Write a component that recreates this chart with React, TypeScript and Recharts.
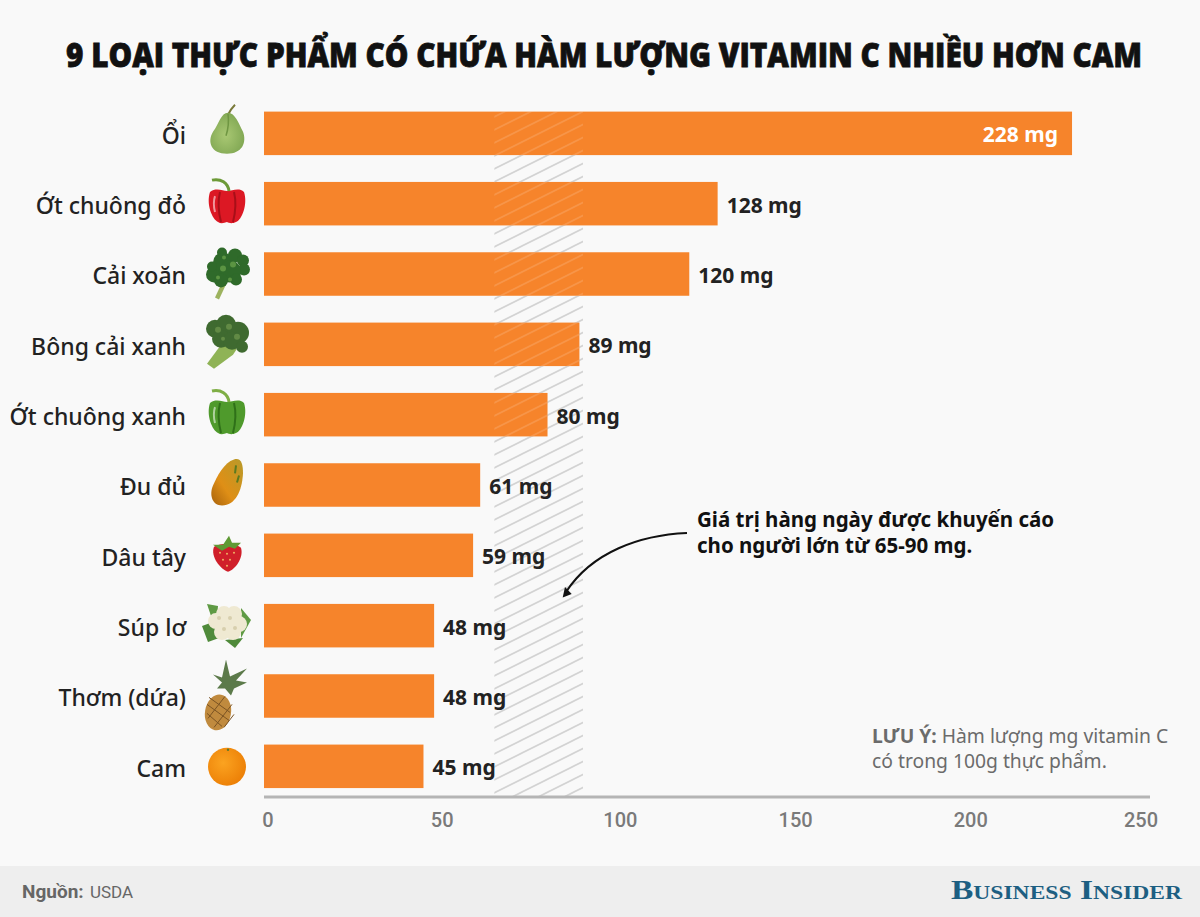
import React from 'react';
import { BarChart, Bar, XAxis, YAxis, ReferenceArea, LabelList } from 'recharts';

const foods = ['Ổi', 'Ớt chuông đỏ', 'Cải xoăn', 'Bông cải xanh', 'Ớt chuông xanh', 'Đu đủ', 'Dâu tây', 'Súp lơ', 'Thơm (dứa)', 'Cam'];
const vitaminC = [228, 128, 120, 89, 80, 61, 59, 48, 48, 45];
const axisTicks = [0, 50, 100, 150, 200, 250];
const DAILY_LOW = 65;
const DAILY_HIGH = 90;

const data = foods.map((name, i) => ({ name, value: vitaminC[i] }));

const TEXT = '#222222';
const ORANGE = '#f6842b';
const SANS = '"Noto Sans", sans-serif';

// the band's row scale runs past the hatch on both ends, so trim it here
const BAND_TRIM_TOP = 13.4;
const BAND_TRIM_BOTTOM = 5;

// the reference nudges its axis numbers a bit off the exact tick position
const tickNudge: Record<number, number> = { 0: 4, 50: 1, 100: 2, 150: 0, 200: -2, 250: -9 };

const blobs = (list: number[][], fill: string) =>
  list.map(([cx, cy, r], i) => <circle key={fill + i} cx={cx} cy={cy} r={r} fill={fill} />);

function Pepper({ body, dark, stem }: { body: string; dark: string; stem: string }) {
  return (
    <g>
      <path d="M-17,-12 C-11,-17 -4,-13 0,-13 C5,-13 12,-17 17,-12 C21,0 15,16 9,18 C5,20 2,19 0,18 C-3,19 -6,20 -9,18 C-15,15 -21,0 -17,-12Z" fill={body} />
      <path d="M-7,-12 C-10,0 -8,10 -6,18 M7,-12 C10,0 8,10 6,18" stroke={dark} strokeWidth={2} fill="none" />
      <path d="M-12,-8 C-14,-2 -13,4 -12,8" stroke="#ffffff" strokeOpacity={0.55} strokeWidth={2} fill="none" />
      <path d="M2,-13 C1,-21 -6,-26 -15,-24" stroke={stem} strokeWidth={3} fill="none" />
    </g>
  );
}

function FoodIcon({ name }: { name: string }) {
  switch (name) {
    case 'Ổi':
      return (
        <g>
          <path d="M1,-19 C3,-23 5,-26 8,-29" stroke="#7a7a3a" strokeWidth={2} fill="none" />
          <path d="M1,-21 C-6,-21 -8,-10 -14,-2 C-20,8 -16,20 0,20 C15,20 20,9 16,-2 C12,-10 8,-21 1,-21Z" fill="url(#guavaFill)" />
          <path d="M1,-20 C2,-12 1,-4 -1,2" stroke="#6f9642" strokeWidth={1.5} fill="none" />
        </g>
      );
    case 'Ớt chuông đỏ':
      return <Pepper body="#dc1824" dark="#a80f18" stem="#6d9a38" />;
    case 'Ớt chuông xanh':
      return <Pepper body="#4f9a2c" dark="#2f7019" stem="#7fae45" />;
    case 'Cải xoăn':
      return (
        <g>
          <path d="M-5,8 L-12,23 L-8,25 L-1,10Z" fill="#9db35f" />
          {blobs([[-13, 0, 8], [-4, -12, 10], [8, -19, 7], [16, -14, 6], [17, -5, 6], [3, -3, 11], [-6, 6, 7], [-15, -8, 5], [9, 5, 6], [-5, -22, 5]], '#2f6a2a')}
          {blobs([[-4, -6, 3], [6, -10, 3], [-9, 3, 2], [3, 5, 2], [-3, -17, 2]], '#5b9442')}
        </g>
      );
    case 'Bông cải xanh':
      return (
        <g>
          <path d="M-6,0 L-20,19 L-13,24 L6,10 L10,4Z" fill="#8fb356" />
          {blobs([[-12, -16, 9], [-1, -20, 10], [11, -12, 11], [-6, -6, 9], [5, -4, 9], [15, 2, 6]], '#3f6a30')}
          {blobs([[-9, -15, 3], [2, -18, 3], [10, -8, 3], [-4, -6, 2]], '#628a45')}
        </g>
      );
    case 'Đu đủ':
      return (
        <g>
          <path d="M7,-26 C14,-28 16,-22 16,-12 C15,6 8,20 -5,20 C-15,20 -18,9 -14,0 C-10,-9 -3,-23 7,-26Z" fill="url(#papayaFill)" />
          <path d="M9,-20 L8,-12 M12,-10 L10,-3" stroke="#5b7a1f" strokeWidth={2} />
        </g>
      );
    case 'Dâu tây':
      return (
        <g>
          <path d="M-13,-9 C-6,-13 8,-13 14,-8 C17,2 8,14 1,16 C-6,14 -17,1 -13,-9Z" fill="#d01f2a" />
          <path d="M-14,-11 L-4,-11 L2,-20 L5,-13 L14,-13 L8,-7 L2,-9 L-5,-5Z" fill="#5f9a34" />
          {blobs([[-7, -3, 0.9], [0, -2, 0.9], [7, -3, 0.9], [-4, 4, 0.9], [3, 4, 0.9], [0, 10, 0.9]], '#f2c36b')}
        </g>
      );
    case 'Súp lơ':
      return (
        <g>
          <path d="M-25,0 L-14,-4 L-8,12 L-19,16Z" fill="#4f8a3a" />
          <path d="M14,-18 L24,-6 L14,12Z" fill="#5f9a44" />
          <path d="M-2,14 L8,22 L16,12Z" fill="#4f8a3a" />
          <path d="M-20,-22 L-9,-20 L-10,-8 L-16,-10Z" fill="#5f9a44" />
          {blobs([[-11, -5, 8], [-3, -12, 8], [7, -12, 8], [12, -2, 8], [6, 6, 8], [-5, 6, 8], [1, -2, 10]], '#efe9d2')}
          {blobs([[-8, -8, 2], [3, -8, 2], [8, 2, 2], [-3, 3, 2]], '#d7cfae')}
        </g>
      );
    case 'Thơm (dứa)':
      return (
        <g>
          <path d="M-2,-8 L-10,-8 L-5,-14 L-14,-22 L-5,-19 L-1,-37 L3,-20 L20,-28 L9,-16 L20,-14 L7,-8 L4,-1Z" fill="#5c7a4a" />
          <ellipse cx={-9} cy={16} rx={13} ry={18} transform="rotate(10 -9 16)" fill="#c08a3e" />
          <path d="M-20,8 L2,24 M-18,1 L3,16 M-20,17 L-5,30 M-2,0 L-19,22 M5,8 L-13,31 M7,18 L-3,31" stroke="#7c5423" strokeWidth={1} />
        </g>
      );
    default:
      return (
        <g>
          <circle cx={0} cy={0} r={19} fill="url(#orangeFill)" />
          <circle cx={1} cy={-17} r={1.2} fill="#5f7a2a" />
        </g>
      );
  }
}

function FoodTick({ x, y, payload }: any) {
  return (
    <g>
      <text x={x} y={y + 10} textAnchor="end" fontFamily={SANS} fontWeight={500} fontSize={23} fill={TEXT}>
        {payload.value}
      </text>
      <g transform={`translate(${x + 41},${y})`}>
        <FoodIcon name={payload.value} />
      </g>
    </g>
  );
}

function ValueTick({ x, y, payload }: any) {
  return (
    <text x={x + tickNudge[payload.value]} y={y + 22} textAnchor="middle" fontFamily="Roboto, sans-serif" fontWeight={500} fontSize={20} fill="#7a7a7a">
      {payload.value}
    </text>
  );
}

function HatchBand({ x, y, width, height }: any) {
  return (
    <rect
      x={x}
      y={y + BAND_TRIM_TOP}
      width={width}
      height={height - BAND_TRIM_TOP - BAND_TRIM_BOTTOM}
      fill="url(#hatchBand)"
    />
  );
}

// bar plus the faint hatch that shows through it inside the recommended range
function HatchedBar({ x, y, width, height, value }: any) {
  const perUnit = width / value;
  return (
    <g>
      <rect x={x} y={y} width={width} height={height} fill={ORANGE} />
      {value > DAILY_LOW && (
        <rect
          x={x + DAILY_LOW * perUnit}
          y={y}
          width={(Math.min(value, DAILY_HIGH) - DAILY_LOW) * perUnit}
          height={height}
          fill="url(#hatchOnBar)"
        />
      )}
    </g>
  );
}

function ValueLabel({ x, y, width, height, value }: any) {
  const inside = value > 200;
  return (
    <text
      x={inside ? x + width - 14 : x + width + 9}
      y={y + height / 2 + 9}
      textAnchor={inside ? 'end' : 'start'}
      fontFamily={SANS}
      fontWeight={700}
      fontSize={21}
      fill={inside ? '#ffffff' : TEXT}
    >
      {`${value} mg`}
    </text>
  );
}

export default function App() {
  return (
    <div style={{ position: 'fixed', left: 0, top: 0, width: 1200, height: 917, background: '#f9f9f9', overflow: 'hidden' }}>
      <svg width={1200} height={917} style={{ position: 'absolute', left: 0, top: 0 }}>
        <defs>
          <pattern id="hatchBand" patternUnits="userSpaceOnUse" width={26} height={13}>
            <path d="M-2,14 L28,-1 M-2,1 L2,-1 M24,14 L28,12" stroke="#d3d3d3" strokeWidth={1.7} />
          </pattern>
          <pattern id="hatchOnBar" patternUnits="userSpaceOnUse" width={26} height={13}>
            <path d="M-2,14 L28,-1 M-2,1 L2,-1 M24,14 L28,12" stroke="#ffffff" strokeOpacity={0.14} strokeWidth={1.7} />
          </pattern>
          <radialGradient id="guavaFill" cx="45%" cy="55%" r="60%">
            <stop offset="0%" stopColor="#a9c873" />
            <stop offset="100%" stopColor="#7fa652" />
          </radialGradient>
          <radialGradient id="orangeFill" cx="40%" cy="40%" r="65%">
            <stop offset="0%" stopColor="#fba320" />
            <stop offset="100%" stopColor="#ec7f06" />
          </radialGradient>
          <linearGradient id="papayaFill" x1="1" y1="0" x2="0" y2="1">
            <stop offset="0%" stopColor="#b89a2a" />
            <stop offset="60%" stopColor="#df8f16" />
            <stop offset="100%" stopColor="#a8620c" />
          </linearGradient>
        </defs>
        <rect x={0} y={866} width={1200} height={51} fill="#eeeeee" />
      </svg>
      <div style={{ position: 'absolute', left: 0, top: 0 }}>
        <BarChart
          width={1200}
          height={917}
          data={data}
          layout="vertical"
          margin={{ top: 112, right: 50, bottom: 80, left: 0 }}
        >
          <ReferenceArea x1={DAILY_LOW} x2={DAILY_HIGH} shape={<HatchBand />} />
          <XAxis
            type="number"
            domain={[0, 250]}
            ticks={axisTicks}
            height={40}
            tick={<ValueTick />}
            tickLine={false}
            axisLine={{ stroke: '#b5b5b5', strokeWidth: 3 }}
          />
          <YAxis
            type="category"
            dataKey="name"
            width={264}
            padding={{ top: -13.4, bottom: -4.9 }}
            tick={<FoodTick />}
            tickSize={0}
            tickMargin={78}
            axisLine={false}
            tickLine={false}
            interval={0}
          />
          <Bar dataKey="value" barSize={43.5} shape={<HatchedBar />} isAnimationActive={false}>
            <LabelList dataKey="value" content={<ValueLabel />} />
          </Bar>
        </BarChart>
      </div>
      <svg width={1200} height={917} style={{ position: 'absolute', left: 0, top: 0, pointerEvents: 'none' }}>
        <text
          transform="translate(66,67) scale(1,1.27)"
          textLength={1076}
          lengthAdjust="spacingAndGlyphs"
          fontFamily='"Open Sans", sans-serif'
          fontWeight={800}
          fontSize={26}
          fill="#111111"
          stroke="#111111"
          strokeWidth={0.6}
        >
          9 LOẠI THỰC PHẨM CÓ CHỨA HÀM LƯỢNG VITAMIN C NHIỀU HƠN CAM
        </text>

        <path d="M687,533 C640,535 592,552 566,592" stroke="#111111" strokeWidth={2} fill="none" />
        <polygon points="562.7,597.5 565,587 571.7,594" fill="#111111" />
        <text fontFamily={SANS} fontWeight={700} fontSize={20.5} fill="#111111">
          <tspan x={697} y={527}>Giá trị hàng ngày được khuyến cáo</tspan>
          <tspan x={697} y={553}>cho người lớn từ 65-90 mg.</tspan>
        </text>

        <text fontFamily={SANS} fontSize={19.3} fill="#6b6b6b">
          <tspan x={872} y={743} fontWeight={700}>LƯU Ý:</tspan>
          <tspan dx={5}>Hàm lượng mg vitamin C</tspan>
          <tspan x={872} y={768}>có trong 100g thực phẩm.</tspan>
        </text>

        <text x={22} y={898} fontFamily="Roboto, sans-serif" fontWeight={700} fontSize={19} fill="#666666">Nguồn:</text>
        <text x={90} y={898} fontFamily="Roboto, sans-serif" fontSize={17} fill="#666666">USDA</text>
        <text x={951} y={899} textLength={231} lengthAdjust="spacingAndGlyphs" fontFamily='"Liberation Serif", serif' fontWeight={700} fontSize={27} fill="#1d5f82" style={{ fontVariant: 'small-caps' }}>
          Business Insider
        </text>
      </svg>
    </div>
  );
}
